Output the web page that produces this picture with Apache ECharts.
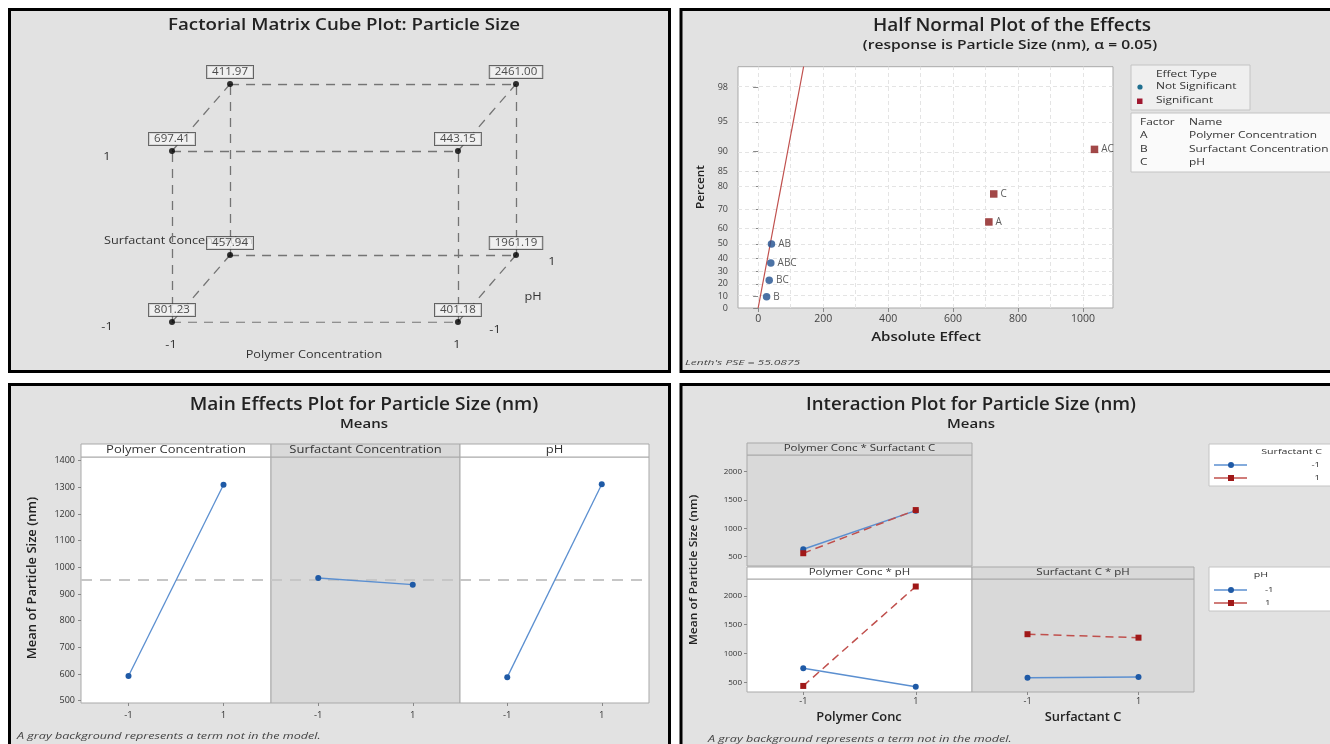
<!DOCTYPE html>
<html><head><meta charset="utf-8">
<script src="https://cdn.jsdelivr.net/npm/echarts@6/dist/echarts.min.js"></script>
<style>html,body{margin:0;padding:0;background:#fff;}#c{width:1330px;height:744px;}</style>
</head><body><div id="c"></div>
<script>
// ================= DATA =================
// Cube plot: factor levels and responses
const cubeA = [-1, 1, -1, 1, -1, 1, -1, 1];          // Polymer Concentration
const cubeB = [-1, -1, 1, 1, -1, -1, 1, 1];          // Surfactant Concentration
const cubeC = [-1, -1, -1, -1, 1, 1, 1, 1];          // pH
const cubeResp = [801.23, 401.18, 697.41, 443.15, 457.94, 1961.19, 411.97, 2461.00];

// Half normal plot of effects
const effectTerms = ['B', 'BC', 'ABC', 'AB', 'A', 'C', 'AC'];
const effectAbs   = [26, 34, 39, 41, 710, 725, 1035];
const effectPct   = [9.5, 23, 36.5, 50, 63.5, 77, 90.5];
const effectSig   = [false, false, false, false, true, true, true];
const lenthPSE = 55.0875;
const pctTicks = [0, 10, 20, 30, 40, 50, 60, 70, 80, 85, 90, 95, 98];
const effTicks = [0, 200, 400, 600, 800, 1000];
const effGrid  = [0, 100, 200, 300, 400, 500, 600, 700, 800, 900, 1000];
const factorCodes = ['A', 'B', 'C'];
const factorNames = ['Polymer Concentration', 'Surfactant Concentration', 'pH'];

// Main effects plot
const levels = ['-1', '1'];
const mainFactors = ['Polymer Concentration', 'Surfactant Concentration', 'pH'];
const mainMeans = [[592, 1310], [960, 935], [588, 1312]];
const mainInModel = [true, false, true];
const grandMean = 954;
const meTicks = [500, 600, 700, 800, 900, 1000, 1100, 1200, 1300, 1400];

// Interaction plot
const intPanels = ['Polymer Conc * Surfactant C', 'Polymer Conc * pH', 'Surfactant C * pH'];
const intInModel = [false, true, false];
const intLow  = [[630, 1310], [745, 425], [580, 595]];    // trace factor = -1
const intHigh = [[560, 1320], [440, 2160], [1335, 1275]]; // trace factor = 1
const intTicks = [500, 1000, 1500, 2000];
const intXNames = ['Polymer Conc', 'Surfactant C'];

// ================= HELPERS =================
const F = "'Open Sans','Noto Sans',sans-serif";
function probit(p){
  const a=[-3.969683028665376e+01,2.209460984245205e+02,-2.759285104469687e+02,1.383577518672690e+02,-3.066479806614716e+01,2.506628277459239e+00];
  const b=[-5.447609879822406e+01,1.615858368580409e+02,-1.556989798598866e+02,6.680131188771972e+01,-1.328068155288572e+01];
  const c=[-7.784894002430293e-03,-3.223964580411365e-01,-2.400758277161838e+00,-2.549732539343734e+00,4.374664141464968e+00,2.938163982698783e+00];
  const d=[7.784695709041462e-03,3.224671290700398e-01,2.445134137142996e+00,3.754408661907416e+00];
  const pl=0.02425, ph=1-pl; let q, r;
  if(p<pl){q=Math.sqrt(-2*Math.log(p));return (((((c[0]*q+c[1])*q+c[2])*q+c[3])*q+c[4])*q+c[5])/((((d[0]*q+d[1])*q+d[2])*q+d[3])*q+1);}
  if(p<=ph){q=p-0.5;r=q*q;return (((((a[0]*r+a[1])*r+a[2])*r+a[3])*r+a[4])*r+a[5])*q/(((((b[0]*r+b[1])*r+b[2])*r+b[3])*r+b[4])*r+1);}
  q=Math.sqrt(-2*Math.log(1-p));return -(((((c[0]*q+c[1])*q+c[2])*q+c[3])*q+c[4])*q+c[5])/((((d[0]*q+d[1])*q+d[2])*q+d[3])*q+1);
}
const hn = p => p <= 0 ? 0 : probit(0.5 + p / 200);   // half-normal score
const hnMax = 2.54;

function txt(x, y, s, size, o = {}) {
  return { type: 'text', x, y, z: o.z ?? 20, rotation: o.rot || 0, scaleX: o.sx || 1,
    style: { text: s, fill: o.color || '#333',
      font: `${o.style || 'normal'} ${o.weight || 'normal'} ${size}px ${F}`,
      textAlign: o.align || 'center', textVerticalAlign: 'middle' } };
}
function rect(x, y, w, h, fill, stroke, lw, z) {
  return { type: 'rect', z: z ?? 1, shape: { x, y, width: w, height: h },
    style: { fill, stroke, lineWidth: lw || 1 } };
}
function line(x1, y1, x2, y2, stroke, lw, dash, z) {
  return { type: 'line', z: z ?? 20, shape: { x1, y1, x2, y2 },
    style: { stroke, lineWidth: lw || 1, lineDash: dash || null } };
}
const plain = v => String(v);

const PANEL = '#e2e2e2', GRAYP = '#d9d9d9', FRAME = '#a9a9a9';
const BLUE = '#1f5aa6', BLUEL = '#5b8fd0', RED = '#a01818', REDL = '#c0504d';

// ================= COMPONENTS =================
const grid = [], xAxis = [], yAxis = [], series = [], graphic = [];

// panel frames
graphic.push(rect(9.5, 9.5, 660, 362, PANEL, '#000', 3, -10));
graphic.push(rect(681, 9.5, 660, 362, PANEL, '#000', 3, -10));
graphic.push(rect(9.5, 384.5, 660, 372, PANEL, '#000', 3, -10));
graphic.push(rect(681, 384.5, 660, 372, PANEL, '#000', 3, -10));

// ---------- Cube plot (grid 0) ----------
const depthX = 0.406, depthY = 0.784;
grid.push({ left: 172, top: 84, width: 344, height: 238, show: false });
xAxis.push({ gridIndex: 0, type: 'value', min: -1, max: 1 + depthX, show: false });
yAxis.push({ gridIndex: 0, type: 'value', min: -1, max: 1 + depthY, show: false });
const cubePts = cubeResp.map((v, i) => [cubeA[i] + depthX * (cubeC[i] + 1) / 2, cubeB[i] + depthY * (cubeC[i] + 1) / 2, v]);
const edges = [];
for (let i = 0; i < 8; i++) for (let j = i + 1; j < 8; j++) {
  const diff = (cubeA[i] !== cubeA[j]) + (cubeB[i] !== cubeB[j]) + (cubeC[i] !== cubeC[j]);
  if (diff === 1) edges.push({ coords: [cubePts[i].slice(0, 2), cubePts[j].slice(0, 2)] });
}
series.push({ type: 'lines', coordinateSystem: 'cartesian2d', xAxisIndex: 0, yAxisIndex: 0, silent: true, z: 2,
  data: edges, lineStyle: { color: '#747474', width: 1.3, type: [9, 7], opacity: 1 } });
series.push({ type: 'scatter', xAxisIndex: 0, yAxisIndex: 0, z: 5, data: cubePts, symbolSize: 6,
  itemStyle: { color: '#000' },
  label: { show: true, position: 'top', distance: 3, formatter: p => p.value[2].toFixed(2),
    fontSize: 11.5, fontFamily: F, color: '#222', backgroundColor: '#f4f4f4', borderColor: '#444', borderWidth: 1, padding: [0, 5, 0, 5] } });
graphic.push(txt(344, 25, 'Factorial Matrix Cube Plot: Particle Size', 17, { weight: 600, color: '#222', sx: 1.1 }));
const cs = { z: 1, sx: 1.27 };
graphic.push(txt(107, 157, '1', 10, cs));
graphic.push(txt(107, 327, '-1', 10, cs));
graphic.push(txt(104, 241, 'Surfactant Concentration', 10, { align: 'left', z: 1, sx: 1.27 }));
graphic.push(txt(171, 345, '-1', 10, cs));
graphic.push(txt(457, 345, '1', 10, cs));
graphic.push(txt(314, 355, 'Polymer Concentration', 10, cs));
graphic.push(txt(552, 262, '1', 10, cs));
graphic.push(txt(533, 297, 'pH', 10, cs));
graphic.push(txt(495, 330, '-1', 10, cs));

// ---------- Half normal plot (grid 1) ----------
grid.push({ left: 738, top: 66.7, width: 375, height: 241.3, show: true, backgroundColor: '#fff', borderColor: FRAME, borderWidth: 1 });
xAxis.push({ gridIndex: 1, type: 'value', min: -62, max: 1092,
  axisLine: { show: false }, splitLine: { show: false },
  axisTick: { show: true, customValues: effTicks, length: 4, lineStyle: { color: '#888' } },
  axisLabel: { customValues: effTicks, fontSize: 10.5, fontFamily: F, color: '#444', margin: 6, formatter: plain } });
yAxis.push({ gridIndex: 1, type: 'value', min: 0, max: hnMax,
  axisLine: { show: false }, splitLine: { show: false },
  axisTick: { show: true, customValues: pctTicks.map(hn), length: 5, lineStyle: { color: '#888' } },
  axisLabel: { customValues: pctTicks.map(hn), fontSize: 9, fontFamily: F, color: '#444', margin: 10,
    formatter: v => { const t = pctTicks.find(t => Math.abs(hn(t) - v) < 1e-6); return t === undefined ? '' : String(t); } } });
series.push({ type: 'line', xAxisIndex: 1, yAxisIndex: 1, z: 3, showSymbol: false, silent: true,
  data: [[0, 0], [lenthPSE * hnMax, hnMax]], lineStyle: { color: REDL, width: 1.2 },
  markLine: { silent: true, symbol: ['none', 'none'], label: { show: false }, z: 1,
    lineStyle: { color: '#e4e4e4', type: [4, 3], width: 1 },
    data: effGrid.map(v => ({ xAxis: v })).concat(pctTicks.slice(1).map(p => ({ yAxis: hn(p) }))) } });
const hnLabel = { show: true, position: 'right', distance: 3, formatter: p => p.value[2], fontSize: 10, fontFamily: F, color: '#333' };
series.push({ type: 'scatter', xAxisIndex: 1, yAxisIndex: 1, z: 5, symbol: 'circle', symbolSize: 7.5,
  itemStyle: { color: '#1f4f8f' }, label: hnLabel,
  data: effectAbs.map((v, i) => [v, hn(effectPct[i]), effectTerms[i]]).filter((d, i) => !effectSig[i]) });
series.push({ type: 'scatter', xAxisIndex: 1, yAxisIndex: 1, z: 5, symbol: 'rect', symbolSize: 7.5,
  itemStyle: { color: '#8b1a1a' }, label: hnLabel,
  data: effectAbs.map((v, i) => [v, hn(effectPct[i]), effectTerms[i]]).filter((d, i) => effectSig[i]) });
graphic.push(txt(1012, 26, 'Half Normal Plot of the Effects', 17.5, { weight: 600, color: '#222', sx: 1.086 }));
graphic.push(txt(1010, 46, '(response is Particle Size (nm), \u03b1 = 0.05)', 12, { weight: 600, color: '#222', sx: 1.3 }));
graphic.push(txt(926, 337, 'Absolute Effect', 13, { weight: 600, color: '#222', sx: 1.16 }));
graphic.push(txt(701, 187, 'Percent', 11, { weight: 600, color: '#222', rot: Math.PI / 2, sx: 1.07 }));
graphic.push(txt(685, 363, "Lenth's PSE = 55.0875", 8, { style: 'italic', align: 'left', color: '#444', sx: 1.5 }));
// legend boxes
const ls = { align: 'left', sx: 1.4 };
graphic.push(rect(1131, 65, 119, 45, '#efefef', '#c4c4c4', 1, 1));
graphic.push(txt(1156, 75, 'Effect Type', 8.5, ls));
graphic.push({ type: 'circle', z: 20, shape: { cx: 1140, cy: 87, r: 2.6 }, style: { fill: '#1f6f8f' } });
graphic.push(txt(1156, 87, 'Not Significant', 8.5, ls));
graphic.push(rect(1137, 98.5, 5.5, 5.5, '#a01830', null, 0, 20));
graphic.push(txt(1156, 101, 'Significant', 8.5, ls));
graphic.push(rect(1131, 113, 205, 59, '#fafafa', '#c4c4c4', 1, 1));
graphic.push(txt(1140, 123, 'Factor', 8.5, ls));
graphic.push(txt(1189, 123, 'Name', 8.5, ls));
factorCodes.forEach((c, i) => {
  graphic.push(txt(1140, 136 + i * 13.5, c, 8.5, ls));
  graphic.push(txt(1189, 136 + i * 13.5, factorNames[i], 8.5, ls));
});

// ---------- Main effects (grids 2-4) ----------
const meLeft = [81, 271, 460], meW = [190, 189, 189];
mainFactors.forEach((name, k) => {
  const gi = 2 + k;
  grid.push({ left: meLeft[k], top: 457, width: meW[k], height: 246, show: true,
    backgroundColor: mainInModel[k] ? '#fff' : GRAYP, borderColor: FRAME, borderWidth: 1 });
  xAxis.push({ gridIndex: gi, type: 'category', data: levels, boundaryGap: true,
    axisLine: { show: false }, splitLine: { show: false },
    axisTick: { show: true, alignWithLabel: true, length: 3, lineStyle: { color: '#888' } },
    axisLabel: { fontSize: 9.5, fontFamily: F, color: '#333', margin: 7 } });
  yAxis.push({ gridIndex: gi, type: 'value', min: 491, max: 1414,
    axisLine: { show: false }, splitLine: { show: false },
    axisTick: { show: k === 0, customValues: meTicks, length: 3, lineStyle: { color: '#888' } },
    axisLabel: { show: k === 0, customValues: meTicks, fontSize: 9, fontFamily: F, color: '#333', margin: 6, formatter: plain } });
  series.push({ type: 'line', xAxisIndex: gi, yAxisIndex: gi, z: 5, data: mainMeans[k],
    symbol: 'circle', symbolSize: 6, itemStyle: { color: BLUE }, lineStyle: { color: BLUEL, width: 1.3 },
    markLine: { silent: true, symbol: ['none', 'none'], label: { show: false }, z: 3,
      lineStyle: { color: '#c6c6c6', type: [11, 8], width: 2 }, data: [{ yAxis: grandMean }] } });
  graphic.push(rect(meLeft[k], 444, meW[k], 13, mainInModel[k] ? '#fff' : GRAYP, FRAME, 1, 2));
  graphic.push(txt(meLeft[k] + meW[k] / 2, 450.5, name, 10, { color: '#333', sx: 1.3 }));
});
graphic.push(txt(364, 405, 'Main Effects Plot for Particle Size (nm)', 17.5, { weight: 600, color: '#222', sx: 1.09 }));
graphic.push(txt(364, 424, 'Means', 13, { weight: 600, color: '#222', sx: 1.15 }));
graphic.push(txt(32, 578, 'Mean of Particle Size (nm)', 12.5, { weight: 600, color: '#222', rot: Math.PI / 2, sx: 1.04 }));
graphic.push(txt(17, 737, 'A gray background represents a term not in the model.', 8.5, { style: 'italic', align: 'left', color: '#444', sx: 1.48 }));

// ---------- Interaction plot (grids 5-7) ----------
const ipos = [
  { left: 747, top: 455, width: 225, height: 111, strip: 443 },
  { left: 747, top: 579, width: 225, height: 113, strip: 567 },
  { left: 972, top: 579, width: 222, height: 113, strip: 567 }
];
intPanels.forEach((name, k) => {
  const gi = 5 + k, p = ipos[k];
  grid.push({ left: p.left, top: p.top, width: p.width, height: p.height, show: true,
    backgroundColor: intInModel[k] ? '#fff' : GRAYP, borderColor: FRAME, borderWidth: 1 });
  xAxis.push({ gridIndex: gi, type: 'category', data: levels, boundaryGap: true,
    axisLine: { show: false }, splitLine: { show: false },
    axisTick: { show: k > 0, alignWithLabel: true, length: 3, lineStyle: { color: '#888' } },
    axisLabel: { show: k > 0, fontSize: 9, fontFamily: F, color: '#333', margin: 5 } });
  yAxis.push({ gridIndex: gi, type: 'value', min: 335, max: 2290,
    axisLine: { show: false }, splitLine: { show: false },
    axisTick: { show: k < 2, customValues: intTicks, length: 3, lineStyle: { color: '#888' } },
    axisLabel: { show: k < 2, customValues: intTicks, fontSize: 8, fontFamily: F, color: '#333', margin: 5, formatter: plain } });
  series.push({ type: 'line', xAxisIndex: gi, yAxisIndex: gi, z: 5, data: intLow[k],
    symbol: 'circle', symbolSize: 6, itemStyle: { color: BLUE }, lineStyle: { color: BLUEL, width: 1.5 } });
  series.push({ type: 'line', xAxisIndex: gi, yAxisIndex: gi, z: 6, data: intHigh[k],
    symbol: 'rect', symbolSize: 6, itemStyle: { color: RED }, lineStyle: { color: REDL, width: 1.5, type: [8, 5] } });
  graphic.push(rect(p.left, p.strip, p.width, p.top - p.strip, intInModel[k] ? '#fff' : GRAYP, FRAME, 1, 2));
  graphic.push(txt(p.left + p.width / 2, p.strip + (p.top - p.strip) / 2, name, 8.5, { color: '#333', sx: 1.35 }));
});
graphic.push(txt(971, 405, 'Interaction Plot for Particle Size (nm)', 17.5, { weight: 600, color: '#222', sx: 1.065 }));
graphic.push(txt(971, 424, 'Means', 13, { weight: 600, color: '#222', sx: 1.15 }));
graphic.push(txt(694, 570, 'Mean of Particle Size (nm)', 11.5, { weight: 600, color: '#222', rot: Math.PI / 2, sx: 1.05 }));
graphic.push(txt(859, 717, intXNames[0], 12.5, { weight: 600, color: '#222', sx: 1.03 }));
graphic.push(txt(1083, 717, intXNames[1], 12.5, { weight: 600, color: '#222', sx: 1.03 }));
graphic.push(txt(708, 740, 'A gray background represents a term not in the model.', 8.5, { style: 'italic', align: 'left', color: '#444', sx: 1.48 }));
// interaction legends
function legendBox(y0, h, title, titleX, titleAlign, lab1, lab2, labX, labAlign, ly1, ly2) {
  graphic.push(rect(1209, y0, 130, h, '#fff', '#c4c4c4', 1, 1));
  graphic.push(txt(titleX, y0 + 8, title, 8, { align: titleAlign, sx: 1.33 }));
  graphic.push(line(1214, ly1, 1247, ly1, BLUEL, 1.5));
  graphic.push({ type: 'circle', z: 21, shape: { cx: 1231, cy: ly1, r: 3 }, style: { fill: BLUE } });
  graphic.push(line(1214, ly2, 1247, ly2, REDL, 1.5));
  graphic.push(rect(1228, ly2 - 3, 6, 6, RED, null, 0, 21));
  graphic.push(txt(labX, ly1, lab1, 8, { align: labAlign, sx: 1.2 }));
  graphic.push(txt(labX, ly2, lab2, 8, { align: labAlign, sx: 1.2 }));
}
legendBox(444, 42, 'Surfactant C', 1322, 'right', '-1', '1', 1320, 'right', 465, 478);
legendBox(567, 44, 'pH', 1261, 'center', '-1', '1', 1265, 'left', 590, 603);

// ================= CHART =================
const chart = echarts.init(document.getElementById('c'), null, { renderer: 'canvas' });
chart.setOption({ animation: false, backgroundColor: '#fff', textStyle: { fontFamily: F },
  grid, xAxis, yAxis, series, graphic });
</script>
</body></html>
